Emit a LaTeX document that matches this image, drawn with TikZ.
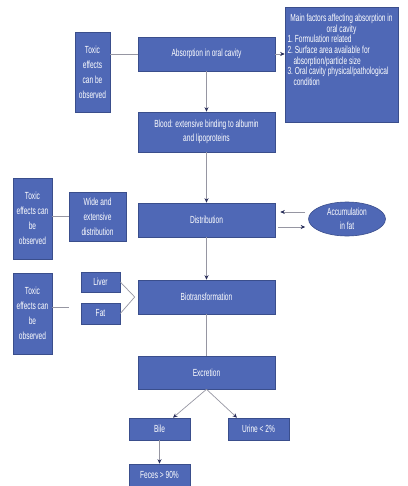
\documentclass[tikz,border=0pt]{standalone}
\usepackage{fontspec}
\setmainfont{Liberation Sans}[FakeStretch=0.64]
\usetikzlibrary{arrows.meta,shapes.geometric,calc}
\definecolor{boxfill}{RGB}{79,104,182}
\definecolor{boxline}{RGB}{58,78,140}
\definecolor{conn}{RGB}{150,150,162}
\definecolor{tipcol}{RGB}{40,45,90}
\begin{document}
\begin{tikzpicture}[x=1pt,y=-1pt,
  box/.style={draw=boxline, line width=0.6pt, fill=boxfill, text=white, inner sep=0pt, align=center,
    font=\fontsize{10.3}{15}\selectfont},
  tight/.style={font=\fontsize{10.3}{13.5}\selectfont},
  link/.style={draw=conn, line width=0.7pt},
  arr/.style={link, -{Stealth[length=4.5pt,width=4pt,color=tipcol]}}]
\useasboundingbox (0,0) rectangle (407,486);

% top row
\node[box, minimum width=35pt, minimum height=80pt] (tox1) at (92.5,72) {Toxic\\effects\\can be\\observed};
\node[box, minimum width=137pt, minimum height=34pt] (abs) at (206.5,54) {Absorption in oral cavity};
\node[box, minimum width=113pt, minimum height=115pt] (main) at (341.5,64.5)
 {\fontsize{10.3}{10.7}\selectfont\begin{minipage}[c][109pt][t]{108pt}\vspace*{4pt}%
  \centering Main factors affecting absorption in\\ oral cavity\par
  \raggedright
  \hangindent=6pt\hangafter=1 1.\ Formulation related\par
  \hangindent=6pt\hangafter=1 2.\ Surface area available for\newline absorption/particle size\par
  \hangindent=6pt\hangafter=1 3.\ Oral cavity physical/pathological\newline condition\par
 \end{minipage}};
\node[box, tight, minimum width=137pt, minimum height=40pt] (blood) at (206.5,132) {Blood: extensive binding to albumin\\and lipoproteins};

% distribution row
\node[box, minimum width=39pt, minimum height=81pt] (tox2) at (32.5,218.5) {Toxic\\effects can\\be\\observed};
\node[box, minimum width=57pt, minimum height=49pt] (wide) at (97.5,216.5) {Wide and\\extensive\\distribution};
\node[box, minimum width=137pt, minimum height=34pt] (dist) at (206.5,220) {Distribution};
\node[box, ellipse, inner sep=0pt, font=\fontsize{10.3}{14}\selectfont, minimum width=77pt, minimum height=34pt] (acc) at (347,219) {Accumulation\\in fat};

% biotransformation row
\node[box, minimum width=39pt, minimum height=81pt] (tox3) at (32.5,313.5) {Toxic\\effects can\\be\\observed};
\node[box, minimum width=39pt, minimum height=20pt] (liver) at (100.5,282) {Liver};
\node[box, minimum width=39pt, minimum height=21pt] (fat) at (100.5,313.5) {Fat};
\node[box, minimum width=137pt, minimum height=34pt] (bio) at (206.5,297) {Biotransformation};

% excretion
\node[box, minimum width=137pt, minimum height=33pt] (exc) at (206.5,372.5) {Excretion};
\node[box, minimum width=61pt, minimum height=22pt] (bile) at (159.5,429) {Bile};
\node[box, minimum width=61pt, minimum height=22pt] (urine) at (258.5,429) {Urine < 2\%};
\node[box, minimum width=61pt, minimum height=22pt] (feces) at (159.5,475) {Feces > 90\%};

% connectors
\draw[link] (abs.west) -- (abs.west -| tox1.east);
\draw[arr] (abs.east) -- (abs.east -| main.west);
\draw[arr] (abs.south) -- (blood.north);
\draw[arr] (blood.south) -- (dist.north);
\draw[link] (wide.west) -- (wide.west -| tox2.east);
\draw[arr] ($(acc.west)+(-3,-7)$) -- ($(dist.east)+(5,-8)$);
\draw[arr] ($(dist.east)+(3,7)$) -- ($(acc.west)+(-3,8)$);
\draw[arr] (dist.south) -- (bio.north);
\coordinate (br) at ($(bio.west)+(-3,0)$);
\draw[link] (liver.east) -- (br) -- (fat.east);
\coordinate (t3e) at (69,307);
\draw[link] (t3e -| tox3.east) -- (t3e);
\draw[link] (bio.south) -- (exc.north);
\draw[arr] (exc.south) -- ($(bile.north)+(13.5,0)$);
\draw[arr] (exc.south) -- ($(urine.north)+(-21.5,0)$);
\draw[arr] (bile.south) -- (feces.north);
\end{tikzpicture}
\end{document}
